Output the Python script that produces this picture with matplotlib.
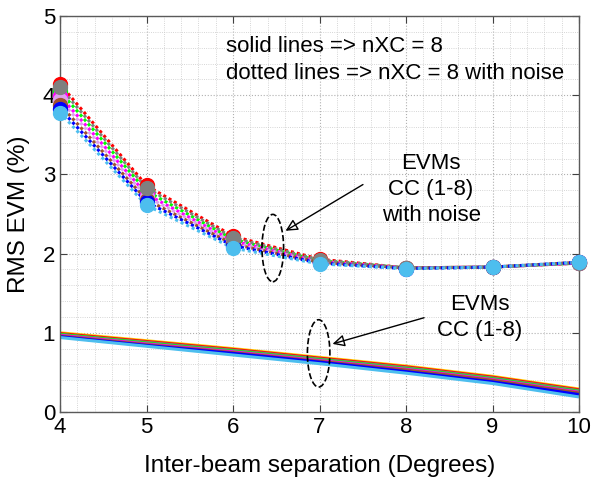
"""
RMS EVM versus inter-beam separation, with and without noise (nXC = 8).
"""
import matplotlib
matplotlib.use("Agg")
import matplotlib.pyplot as plt
from matplotlib.patches import Ellipse
from matplotlib.ticker import MultipleLocator

plt.rcParams["font.family"] = ["Liberation Sans", "DejaVu Sans"]

separation = [4, 5, 6, 7, 8, 9, 10]

colors = ["#ff0000", "#00ff00", "#ff00ff", "#dda0ee",
          "#a0522d", "#0000ff", "#808080", "#4dbeee"]
solid_colors = ["#ffcc00", "#ff0000", "#808080", "#00ff00", "#ff00ff",
                "#a0522d", "#0000ff", "#4dbeee"]

# EVM with noise (dotted), one list per CC
evm_noise_cc1 = [4.14, 2.86, 2.22, 1.93, 1.82, 1.83, 1.88]
evm_noise_cc2 = [4.05, 2.79, 2.18, 1.91, 1.82, 1.83, 1.88]
evm_noise_cc3 = [3.99, 2.75, 2.16, 1.90, 1.82, 1.83, 1.88]
evm_noise_cc4 = [3.94, 2.72, 2.14, 1.90, 1.82, 1.83, 1.89]
evm_noise_cc5 = [3.88, 2.68, 2.12, 1.89, 1.82, 1.83, 1.89]
evm_noise_cc6 = [3.83, 2.65, 2.10, 1.88, 1.81, 1.83, 1.89]
evm_noise_cc7 = [4.10, 2.83, 2.20, 1.92, 1.82, 1.83, 1.88]
evm_noise_cc8 = [3.78, 2.61, 2.07, 1.87, 1.81, 1.83, 1.89]

# EVM without noise (solid)
evm_cc1 = [1.00, 0.90, 0.80, 0.69, 0.58, 0.45, 0.29]
evm_cc2 = [0.99, 0.89, 0.79, 0.68, 0.57, 0.44, 0.28]
evm_cc3 = [0.98, 0.88, 0.78, 0.67, 0.56, 0.43, 0.27]
evm_cc4 = [0.98, 0.87, 0.77, 0.66, 0.55, 0.42, 0.26]
evm_cc5 = [0.97, 0.86, 0.76, 0.65, 0.54, 0.41, 0.25]
evm_cc6 = [0.96, 0.85, 0.75, 0.64, 0.53, 0.40, 0.24]
evm_cc7 = [0.95, 0.84, 0.74, 0.63, 0.51, 0.38, 0.22]
evm_cc8 = [0.94, 0.83, 0.72, 0.61, 0.49, 0.36, 0.19]

noisy = [evm_noise_cc1, evm_noise_cc2, evm_noise_cc3, evm_noise_cc4,
         evm_noise_cc5, evm_noise_cc6, evm_noise_cc7, evm_noise_cc8]
clean = [evm_cc1, evm_cc2, evm_cc3, evm_cc4,
         evm_cc5, evm_cc6, evm_cc7, evm_cc8]

fig = plt.figure(figsize=(5.92, 4.83), dpi=100)
ax = fig.add_axes([60 / 592, 71 / 483, 519 / 592, 396 / 483])

for vals, c in zip(clean, solid_colors):
    ax.plot(separation, vals, color=c, lw=2.2, solid_capstyle="butt")

for vals, c in zip(noisy, colors):
    ax.plot(separation, vals, color=c, lw=2.2, ls=(0, (1, 1)),
            dash_capstyle="butt", clip_on=False, zorder=3)
    ax.plot(separation, vals, ls="none", marker="o", ms=10,
            mfc=c, mec=c, clip_on=False, zorder=4)

ax.set_xlim(4, 10)
ax.set_ylim(0, 5)
ax.xaxis.set_major_locator(MultipleLocator(1))
ax.yaxis.set_major_locator(MultipleLocator(1))
ax.xaxis.set_minor_locator(MultipleLocator(0.2))
ax.yaxis.set_minor_locator(MultipleLocator(0.2))
ax.grid(True, which="major", ls=":", color="#b0b0b0", lw=0.8)
ax.grid(True, which="minor", ls=":", color="#c8c8c8", lw=0.6)
ax.tick_params(which="both", direction="in", top=True, right=True,
               labelsize=16, color="#404040")
ax.tick_params(which="minor", length=0)
ax.tick_params(which="major", length=5)
for s in ax.spines.values():
    s.set_color("#5a5a5a")
    s.set_linewidth(1.0)

ax.set_xlabel("Inter-beam separation (Degrees)", fontsize=17.5, labelpad=12)
ax.set_ylabel("RMS EVM (%)", fontsize=17.5, labelpad=9)

ax.text(5.92, 4.61, "solid lines => nXC = 8", fontsize=16, va="center")
ax.text(5.92, 4.28, "dotted lines => nXC = 8 with noise", fontsize=16,
        va="center")

ax.add_patch(Ellipse((6.46, 2.07), 0.25, 0.85, fill=False, ls="--",
                     lw=1.2, ec="black", zorder=5))
ax.add_patch(Ellipse((6.99, 0.74), 0.26, 0.85, fill=False, ls="--",
                     lw=1.2, ec="black", zorder=5))

ax.annotate("", xy=(6.58, 2.27), xytext=(7.53, 2.89),
            arrowprops=dict(arrowstyle="-|>", color="black", lw=1,
                            mutation_scale=18, fill=False))
ax.annotate("", xy=(7.12, 0.85), xytext=(8.24, 1.2),
            arrowprops=dict(arrowstyle="-|>", color="black", lw=1,
                            mutation_scale=18, fill=False))

ax.text(8.29, 2.81, "EVMs\nCC (1-8)\nwith noise", fontsize=16,
        ha="center", va="center", linespacing=1.3)
ax.text(8.85, 1.19, "EVMs\nCC (1-8)", fontsize=16,
        ha="center", va="center", linespacing=1.3)

plt.savefig("out.png", dpi=100)
